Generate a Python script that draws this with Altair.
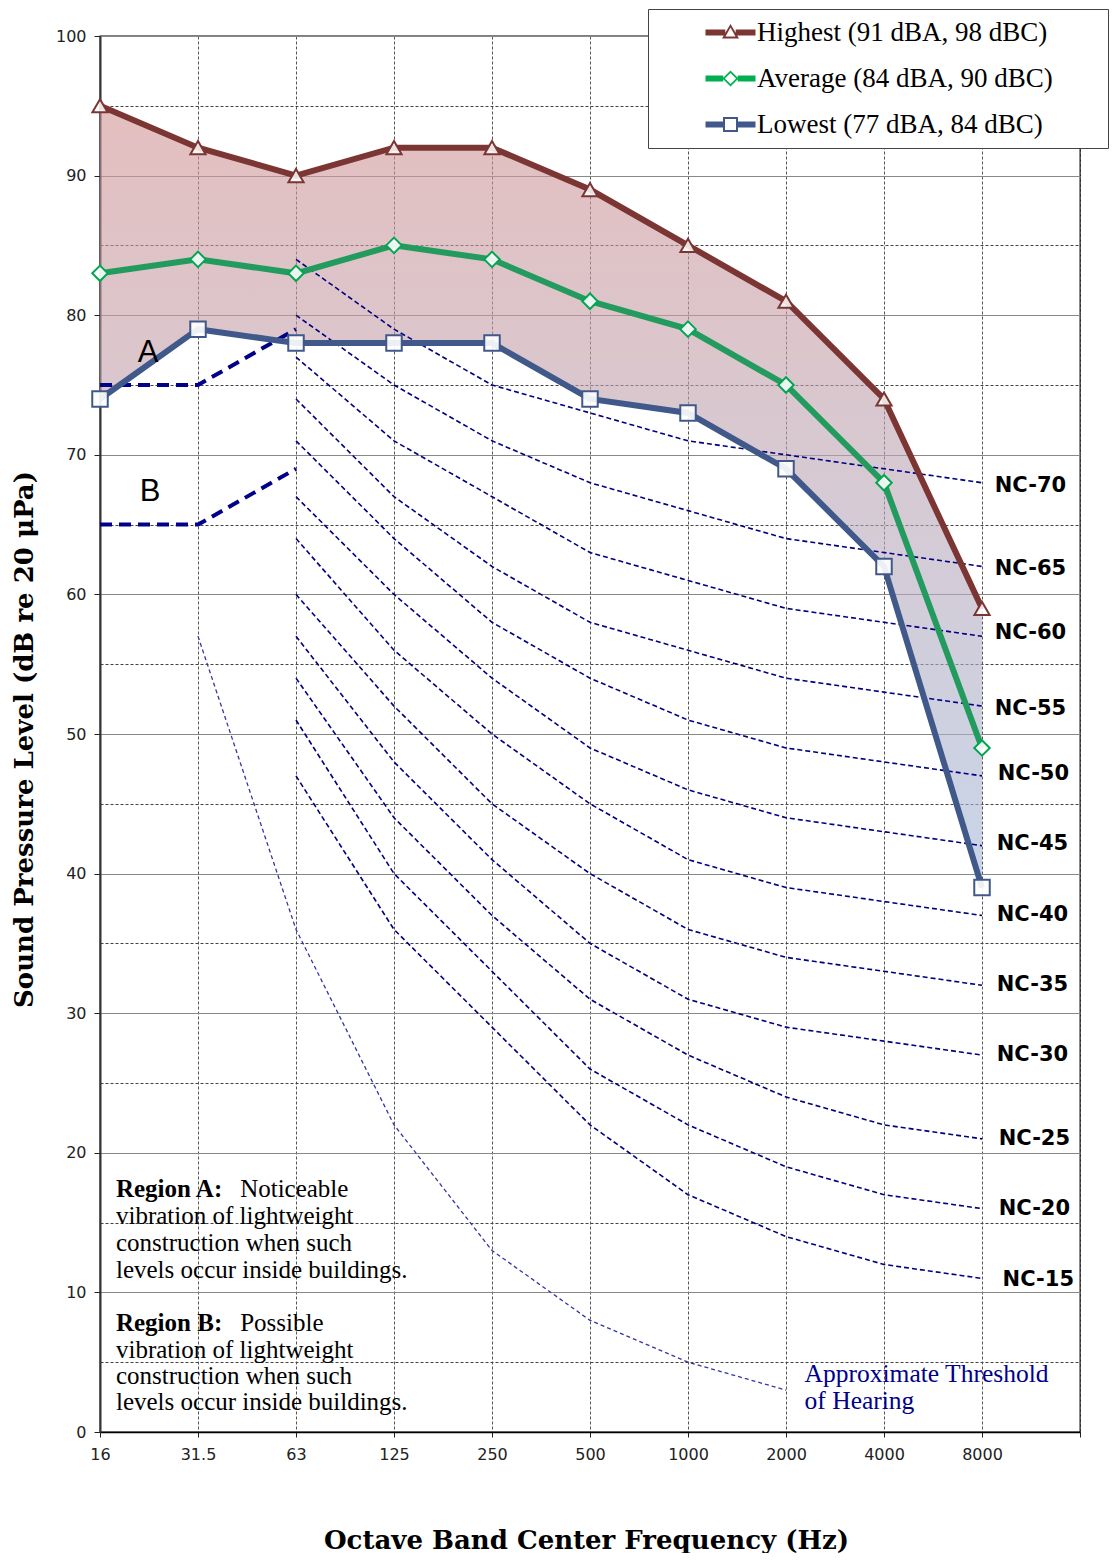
import json
import altair as alt
import pandas as pd

# ---------------- data ----------------
freq_labels = ["16", "31.5", "63", "125", "250", "500", "1000", "2000", "4000", "8000"]
freq_idx = list(range(len(freq_labels)))

highest = [95, 92, 90, 92, 92, 89, 85, 81, 74, 59]
average = [83, 84, 83, 85, 84, 81, 79, 75, 68, 49]
lowest = [74, 79, 78, 78, 78, 74, 73, 69, 62, 39]

series_names = ["Highest (91 dBA, 98 dBC)", "Average (84 dBA, 90 dBC)", "Lowest (77 dBA, 84 dBC)"]

# NC curves, 63 Hz .. 8000 Hz
nc_idx = list(range(2, 10))
nc_names = ["NC-70", "NC-65", "NC-60", "NC-55", "NC-50", "NC-45",
            "NC-40", "NC-35", "NC-30", "NC-25", "NC-20", "NC-15"]
nc_values = [
    [84, 79, 75, 73, 71, 70, 69, 68],
    [80, 75, 71, 68, 66, 64, 63, 62],
    [77, 71, 67, 63, 61, 59, 58, 57],
    [74, 67, 62, 58, 56, 54, 53, 52],
    [71, 64, 58, 54, 51, 49, 48, 47],
    [67, 60, 54, 49, 46, 44, 43, 42],
    [64, 56, 50, 45, 41, 39, 38, 37],
    [60, 52, 45, 40, 36, 34, 33, 32],
    [57, 48, 41, 35, 31, 29, 28, 27],
    [54, 44, 37, 31, 27, 24, 22, 21],
    [51, 40, 33, 26, 22, 19, 17, 16],
    [47, 36, 29, 22, 17, 14, 12, 11],
]
nc_label_x = [9.13, 9.13, 9.13, 9.13, 9.16, 9.15, 9.15, 9.15, 9.15, 9.17, 9.17, 9.21]
nc_label_y = [67.8, 61.8, 57.2, 51.8, 47.1, 42.1, 37.0, 32.0, 27.0, 21.0, 16.0, 10.9]

# threshold of hearing, 31.5 Hz .. 2000 Hz
thr_idx = [1, 2, 3, 4, 5, 6, 7]
thr_values = [57, 36, 22, 13, 8, 5, 3]

# vibration regions A and B, 16 .. 63 Hz
region_idx = [0, 1, 2]
region_a = [75, 75, 79]
region_b = [65, 65, 69]
region_letters = ["A", "B"]
region_letter_x = [0.49, 0.51]
region_letter_y = [77.3, 67.3]

# annotation texts
note_bold = ["Region A:", "Region B:"]
note_bold_x = [0.163, 0.163]
note_bold_y = [17.4, 7.8]
note_rest = ["Noticeable", "Possible"]
note_rest_x = [1.43, 1.43]
note_lines = ["vibration of lightweight", "construction  when such", "levels occur  inside buildings.",
              "vibration of lightweight", "construction  when such", "levels occur  inside buildings."]
note_lines_x = [0.163] * 6
note_lines_y = [15.47, 13.54, 11.60, 5.9, 4.0, 2.15]

thr_text = ["Approximate Threshold", "of Hearing"]
thr_text_x = [7.19, 7.19]
thr_text_y = [4.15, 2.2]

# ---------------- tables ----------------
main_df = pd.DataFrame({"idx": freq_idx, "high": highest, "avg": average, "low": lowest})
nc_df = pd.DataFrame([
    {"curve": n, "idx": i, "level": v}
    for n, vals in zip(nc_names, nc_values) for i, v in zip(nc_idx, vals)
])
nc_lab_df = pd.DataFrame({"text": nc_names, "x": nc_label_x, "y": nc_label_y})
thr_df = pd.DataFrame({"idx": thr_idx, "level": thr_values})
reg_df = pd.DataFrame(
    [{"region": "A", "idx": i, "level": v} for i, v in zip(region_idx, region_a)]
    + [{"region": "B", "idx": i, "level": v} for i, v in zip(region_idx, region_b)]
)
letters_df = pd.DataFrame({"text": region_letters, "x": region_letter_x, "y": region_letter_y})
bold_df = pd.DataFrame({"text": note_bold, "x": note_bold_x, "y": note_bold_y})
rest_df = pd.DataFrame({"text": note_rest, "x": note_rest_x, "y": note_bold_y})
lines_df = pd.DataFrame({"text": note_lines, "x": note_lines_x, "y": note_lines_y})
thr_txt_df = pd.DataFrame({"text": thr_text, "x": thr_text_x, "y": thr_text_y})
legend_df = pd.DataFrame({"series": series_names})

# ---------------- styling ----------------
W, H = 980, 1396
SERIF = "Liberation Serif"
TITLE_FONT = "DejaVu Serif"
SANS = "DejaVu Sans"
C_HIGH, C_AVG, C_LOW = "#7b3532", "#239a5e", "#40598a"
C_AVG_MARK = "#00a651"
NAVY = "#000080"

xscale = alt.Scale(domain=[0, 10], nice=False, zero=False)
yscale = alt.Scale(domain=[0, 100], nice=False, zero=True)

label_expr_x = "(" + json.dumps(freq_labels) + ")[datum.value] || ''"

x_axis = alt.Axis(
    title="Octave Band Center Frequency (Hz)",
    values=list(range(11)),
    labelExpr=label_expr_x, labelFlush=False,
    labelFont=SANS, labelFontSize=16, labelColor="#222", labelPadding=9,
    tickSize=5, tickColor="#222", domainColor="black", domainWidth=1.3,
    grid=True, gridDash=[3, 2], gridColor="#555", gridWidth=1,
    titleFont=TITLE_FONT, titleFontSize=26, titleFontWeight="bold", titleColor="black",
    titleX=486, titleY=108, titleBaseline="middle", titleAnchor="middle",
)
y_axis = alt.Axis(
    title="Sound Pressure Level (dB re 20 \u03bcPa)",
    values=list(range(0, 101, 5)),
    labelExpr="datum.value % 10 == 0 ? datum.label : ''", labelFlush=False,
    labelFont=SANS, labelFontSize=16, labelColor="#222", labelPadding=8,
    tickSize={"condition": {"test": "datum.value % 10 == 0", "value": 6}, "value": 0},
    tickColor="#222",
    domainColor="#333", domainWidth=2,
    grid=True,
    gridDash={"condition": {"test": "datum.value % 10 != 0", "value": [3, 2]}, "value": []},
    gridColor={"condition": {"test": "datum.value % 10 != 0", "value": "#444"}, "value": "#888"},
    gridWidth=1,
    titleFont=TITLE_FONT, titleFontSize=26, titleFontWeight="bold", titleColor="black",
    titleX=-76, titleY=703, titleBaseline="middle", titleAngle=-90, titleAnchor="middle",
)


def X(field, axis=None):
    if axis is None:
        return alt.X(field, type="quantitative", scale=xscale)
    return alt.X(field, type="quantitative", scale=xscale, axis=axis)


def Y(field, axis=None):
    if axis is None:
        return alt.Y(field, type="quantitative", scale=yscale)
    return alt.Y(field, type="quantitative", scale=yscale, axis=axis)


# ---------------- layers ----------------
gradient = alt.Gradient(
    gradient="linear",
    stops=[alt.GradientStop(color="#d29494", offset=0),
           alt.GradientStop(color="#a3b9d9", offset=1)],
    x1=0, x2=0, y1=0, y2=1,
)

area = alt.Chart(main_df).mark_area(color=gradient, opacity=0.6).encode(
    x=X("idx", x_axis), y=Y("high", y_axis), y2="low"
)

nc_lines = alt.Chart(nc_df).mark_line(color=NAVY, strokeWidth=1.6, strokeDash=[5, 3]).encode(
    x=X("idx"), y=Y("level"), detail="curve:N"
)

thr_line = alt.Chart(thr_df).mark_line(color="#3535a5", strokeWidth=1.3, strokeDash=[4, 3]).encode(
    x=X("idx"), y=Y("level")
)

reg_lines = alt.Chart(reg_df).mark_line(color="#00008b", strokeWidth=4, strokeDash=[12, 7]).encode(
    x=X("idx"), y=Y("level"), detail="region:N"
)

line_high = alt.Chart(main_df).mark_line(color=C_HIGH, strokeWidth=6).encode(x=X("idx"), y=Y("high"))
line_avg = alt.Chart(main_df).mark_line(color=C_AVG, strokeWidth=6).encode(x=X("idx"), y=Y("avg"))
line_low = alt.Chart(main_df).mark_line(color=C_LOW, strokeWidth=6).encode(x=X("idx"), y=Y("low"))

pts_high = alt.Chart(main_df).mark_point(
    shape="triangle-up", size=230, filled=True, fill="white", fillOpacity=0.85,
    stroke=C_HIGH, strokeWidth=2, opacity=1
).encode(x=X("idx"), y=Y("high"))
pts_avg = alt.Chart(main_df).mark_point(
    shape="diamond", size=240, filled=True, fill="white", fillOpacity=0.9,
    stroke=C_AVG_MARK, strokeWidth=2, opacity=1
).encode(x=X("idx"), y=Y("avg"))
pts_low = alt.Chart(main_df).mark_point(
    shape="square", size=240, filled=True, fill="white", fillOpacity=0.9,
    stroke=C_LOW, strokeWidth=2, opacity=1
).encode(x=X("idx"), y=Y("low"))

nc_labels = alt.Chart(nc_lab_df).mark_text(
    font=SANS, fontSize=21, fontWeight="bold", color="black", align="left", baseline="middle"
).encode(x=X("x"), y=Y("y"), text="text:N")

letters = alt.Chart(letters_df).mark_text(
    font="Liberation Sans", fontSize=31, color="black", align="center", baseline="middle"
).encode(x=X("x"), y=Y("y"), text="text:N")

notes_bold = alt.Chart(bold_df).mark_text(
    font=SERIF, fontSize=25, fontWeight="bold", color="black", align="left", baseline="middle"
).encode(x=X("x"), y=Y("y"), text="text:N")
notes_rest = alt.Chart(rest_df).mark_text(
    font=SERIF, fontSize=25, color="black", align="left", baseline="middle"
).encode(x=X("x"), y=Y("y"), text="text:N")
notes_lines = alt.Chart(lines_df).mark_text(
    font=SERIF, fontSize=25, color="black", align="left", baseline="middle"
).encode(x=X("x"), y=Y("y"), text="text:N")
thr_notes = alt.Chart(thr_txt_df).mark_text(
    font=SERIF, fontSize=25.5, color="#00008b", align="left", baseline="middle"
).encode(x=X("x"), y=Y("y"), text="text:N")

# legend: line + hollow marker symbols drawn as custom paths (scaled by sqrt(size)/2)
tri_path = ("M-2.5,-0.3H-0.52V0.3H-2.5Z M0.52,-0.3H2.5V0.3H0.52Z "
            "M0,-0.85L0.85,0.6H-0.85Z M0,-0.5L-0.5,0.4H0.5Z")
dia_path = ("M-2.5,-0.3H-0.72V0.3H-2.5Z M0.72,-0.3H2.5V0.3H0.72Z "
            "M0,-0.8L0.8,0L0,0.8L-0.8,0Z M0,-0.56L-0.56,0L0,0.56L0.56,0Z")
sq_path = ("M-2.5,-0.3H-0.75V0.3H-2.5Z M0.75,-0.3H2.5V0.3H0.75Z "
           "M-0.75,-0.75H0.75V0.75H-0.75Z M-0.55,-0.55V0.55H0.55V-0.55Z")

leg = alt.Legend(
    title=".", titleOrient="right", titleFontSize=10, titleColor="white", titleOpacity=0,
    titleAnchor="middle", titleBaseline="middle", titlePadding=42,
    orient="none", legendX=548, legendY=-27, direction="vertical",
    padding=10, fillColor="white", strokeColor="#444",
    labelFont=SERIF, labelFontSize=27, labelColor="black", labelLimit=0,
    symbolSize=400, symbolStrokeWidth=0, symbolOpacity=1,
    symbolOffset=59, labelOffset=13, rowPadding=18,
)

legend_layer = alt.Chart(legend_df).mark_point(filled=True, opacity=0, size=400).encode(
    x=alt.value(0), y=alt.value(0),
    color=alt.Color("series:N", scale=alt.Scale(domain=series_names,
                                                range=[C_HIGH, "#00b050", C_LOW]), legend=leg),
    shape=alt.Shape("series:N", scale=alt.Scale(domain=series_names,
                                                range=[tri_path, dia_path, sq_path]), legend=leg),
)

chart = alt.layer(
    area, nc_lines, thr_line, reg_lines,
    line_high, line_avg, line_low,
    pts_high, pts_avg, pts_low,
    nc_labels, letters, notes_bold, notes_rest, notes_lines, thr_notes,
    legend_layer,
).properties(
    width=W, height=H,
    padding={"left": 3, "top": 0, "right": 0, "bottom": 0},
    background="white",
).configure_view(stroke="black", strokeWidth=1.3)

chart.save("out.html", embed_options={"renderer": "svg", "actions": False})
